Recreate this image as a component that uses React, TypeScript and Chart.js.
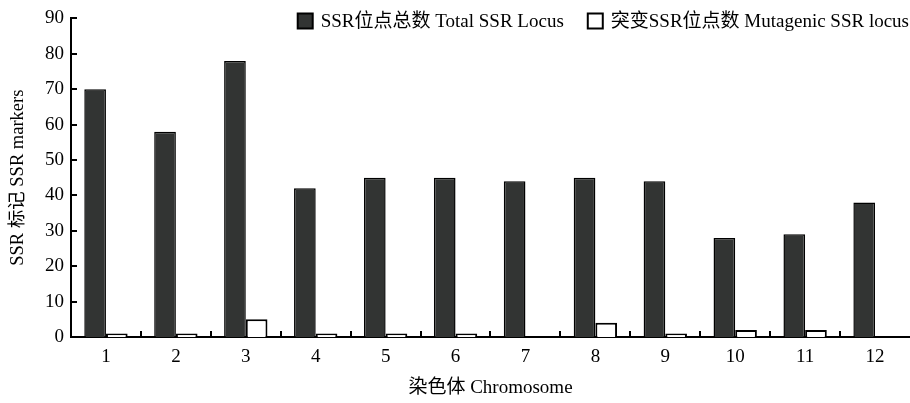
import React, { useEffect, useRef } from "react";
import { Chart, registerables } from "chart.js";

Chart.register(...registerables);

const categories = ["1", "2", "3", "4", "5", "6", "7", "8", "9", "10", "11", "12"];
const totalSSR = [70, 58, 78, 42, 45, 45, 44, 45, 44, 28, 29, 38];
const mutagenicSSR = [1, 1, 5, 1, 1, 1, 0, 4, 1, 2, 2, 0];
const yTicks = [0, 10, 20, 30, 40, 50, 60, 70, 80, 90];
const seriesLabels = ["SSR位点总数 Total SSR Locus", "突变SSR位点数 Mutagenic SSR locus"];

const FONT = "'Liberation Serif', 'Times New Roman', 'Noto Sans CJK SC', serif";

const inwardTicks = {
  id: "inwardTicks",
  afterDraw(chart: any) {
    const ctx = chart.ctx;
    const x = chart.scales.x;
    const y = chart.scales.y;
    const area = chart.chartArea;
    ctx.save();
    ctx.strokeStyle = "#000";
    ctx.lineWidth = 2;
    ctx.beginPath();
    yTicks.forEach((v) => {
      const py = Math.round(y.getPixelForValue(v));
      ctx.moveTo(area.left, py);
      ctx.lineTo(area.left + 6, py);
    });
    for (let i = 1; i < categories.length; i++) {
      const px = Math.round((x.getPixelForValue(i - 1) + x.getPixelForValue(i)) / 2);
      ctx.moveTo(px, area.bottom);
      ctx.lineTo(px, area.bottom - 6);
    }
    ctx.stroke();
    ctx.restore();
  },
};

const customLegend = {
  id: "customLegend",
  afterDraw(chart: any) {
    const ctx = chart.ctx;
    const area = chart.chartArea;
    const box = 15;
    const gap = 8;
    const itemGap = 24;
    const cy = 21;
    ctx.save();
    ctx.font = `19px ${FONT}`;
    ctx.textBaseline = "middle";
    ctx.textAlign = "left";
    let right = area.right - 1;
    const ds = chart.data.datasets;
    for (let i = ds.length - 1; i >= 0; i--) {
      const text = ds[i].label;
      const w = ctx.measureText(text).width;
      const tx = right - w;
      const bx = tx - gap - box;
      ctx.fillStyle = ds[i].backgroundColor;
      ctx.fillRect(bx, cy - box / 2, box, box);
      ctx.strokeStyle = "#000";
      ctx.lineWidth = 2;
      ctx.strokeRect(bx, cy - box / 2, box, box);
      ctx.fillStyle = "#000";
      ctx.fillText(text, tx, cy + 1);
      right = bx - itemGap;
    }
    ctx.restore();
  },
};

export default function App() {
  const ref = useRef<HTMLCanvasElement>(null);
  useEffect(() => {
    if (!ref.current) return;
    const chart = new Chart(ref.current, {
      type: "bar",
      data: {
        labels: categories,
        datasets: [
          {
            label: seriesLabels[0],
            data: totalSSR,
            backgroundColor: "#323433",
            borderColor: "#000",
            borderWidth: 1.5,
            categoryPercentage: 0.62,
            barPercentage: 1.0,
          },
          {
            label: seriesLabels[1],
            data: mutagenicSSR,
            backgroundColor: "#ffffff",
            borderColor: "#000",
            borderWidth: 2,
            categoryPercentage: 0.62,
            barPercentage: 1.0,
          },
        ],
      },
      options: {
        animation: false,
        responsive: false,
        maintainAspectRatio: false,
        layout: { padding: { top: 14, right: 0, left: 0, bottom: 0 } },
        plugins: {
          tooltip: { enabled: false },
          legend: { display: false },
        },
        scales: {
          x: {
            grid: { display: false, drawTicks: false },
            border: { color: "#000", width: 2 },
            ticks: { color: "#000", padding: 9, font: { family: FONT, size: 19 } },
            title: {
              display: true,
              text: "染色体 Chromosome",
              color: "#000",
              font: { family: FONT, size: 19 },
              padding: { top: 3 },
            },
            afterFit(scale: any) {
              scale.height = 66;
            },
          },
          y: {
            min: 0,
            max: 90,
            ticks: {
              stepSize: 10,
              color: "#000",
              padding: 7,
              font: { family: FONT, size: 19 },
            },
            grid: { display: false, drawTicks: false },
            border: { color: "#000", width: 2 },
            title: {
              display: true,
              text: "SSR 标记 SSR markers",
              color: "#000",
              font: { family: FONT, size: 18.5 },
              padding: { top: 7, bottom: 0 },
            },
            afterFit(scale: any) {
              scale.width = 71;
            },
          },
        },
      },
      plugins: [inwardTicks, customLegend],
    });
    return () => chart.destroy();
  }, []);
  return (
    <div style={{ position: "absolute", left: 0, top: 0, width: 910, height: 403, background: "#fff" }}>
      <canvas ref={ref} width={910} height={403} style={{ width: 910, height: 403 }} />
    </div>
  );
}
